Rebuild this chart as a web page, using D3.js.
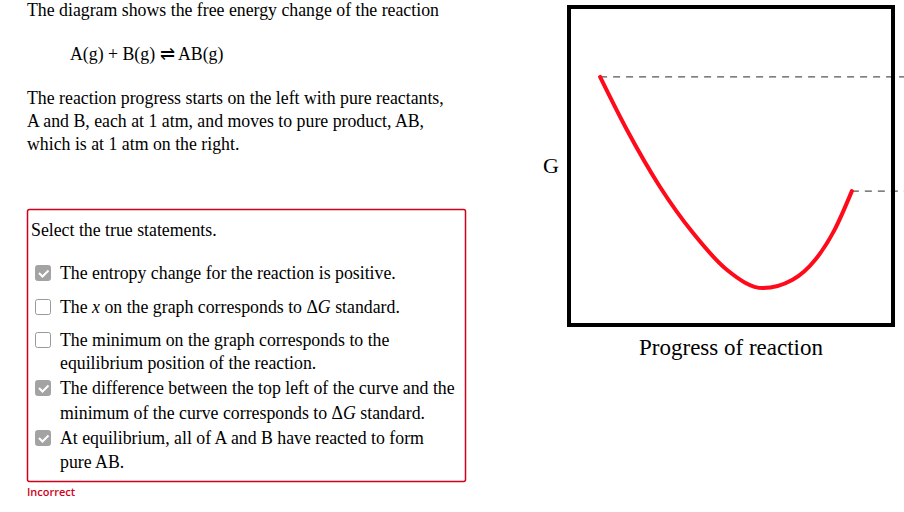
<!DOCTYPE html>
<html><head><meta charset="utf-8">
<script src="https://cdn.jsdelivr.net/npm/d3@7"></script>
<style>body{margin:0;background:#fff}svg text{font-family:"Liberation Serif","Times New Roman",serif;font-size:17.8px;fill:#000}</style>
</head><body><svg id="c" width="904" height="512"></svg>
<script>
// curve of G vs progress of reaction
const progress = [0.096, 0.179, 0.281, 0.383, 0.488, 0.599, 0.69, 0.76, 0.82, 0.873];
const gValues  = [78, 61.3, 43.4, 28.9, 17.3, 11.6, 14.2, 20.5, 30, 42.1];
const statements = [
  {checked: true,  lines: ["The entropy change for the reaction is positive."]},
  {checked: false, lines: ["The <i>x</i> on the graph corresponds to ΔG standard."]},
  {checked: false, lines: ["The minimum on the graph corresponds to the", "equilibrium position of the reaction."]},
  {checked: true,  lines: ["The difference between the top left of the curve and the", "minimum of the curve corresponds to ΔG standard."]},
  {checked: true,  lines: ["At equilibrium, all of A and B have reacted to form", "pure AB."]}
];
const itemY = [[279], [313], [346, 369], [394, 419], [444, 468]];

const svg = d3.select('#c');

// left text
const t = (x, y, s) => svg.append('text').attr('x', x).attr('y', y).text(s);
t(27, 16, 'The diagram shows the free energy change of the reaction');
t(70, 60, 'A(g) + B(g) ⇌ AB(g)');
t(27, 104, 'The reaction progress starts on the left with pure reactants,');
t(27, 127, 'A and B, each at 1 atm, and moves to pure product, AB,');
t(27, 150, 'which is at 1 atm on the right.');

svg.append('rect').attr('x', 27.5).attr('y', 209.5).attr('width', 438).attr('height', 272)
  .attr('fill', 'none').attr('stroke', '#d0021b').attr('stroke-width', 1.5).attr('rx', 2);
t(31, 236, 'Select the true statements.');

function richLine(x, y, s) {
  const el = svg.append('text').attr('x', x).attr('y', y);
  s.split(/(<i>x<\/i>|ΔG)/).forEach(p => {
    if (p === '<i>x</i>') el.append('tspan').attr('font-style', 'italic').text('x');
    else if (p === 'ΔG') { el.append('tspan').text('Δ'); el.append('tspan').attr('font-style', 'italic').text('G'); }
    else if (p) el.append('tspan').text(p);
  });
}
statements.forEach((d, i) => {
  const y0 = itemY[i][0];
  const g = svg.append('g');
  g.append('rect').attr('x', 35.5).attr('y', y0 - 13.5).attr('width', 15).attr('height', 15).attr('rx', 2)
    .attr('fill', d.checked ? '#a3a3a3' : '#fff').attr('stroke', d.checked ? '#a3a3a3' : '#999');
  if (d.checked) g.append('path').attr('d', `M39,${y0 - 6} l3.5,3.5 l6,-6`)
    .attr('fill', 'none').attr('stroke', '#fff').attr('stroke-width', 2);
  d.lines.forEach((l, j) => richLine(60, itemY[i][j], l));
});
svg.append('text').attr('x', 27).attr('y', 496).text('Incorrect')
  .style('font-family', '"Open Sans",sans-serif').style('font-size', '11px').style('fill', '#d0021b').style('font-weight', 600);

// chart
const box = {x0: 569, x1: 893, y0: 7, y1: 325};
const x = d3.scaleLinear().domain([0, 1]).range([box.x0, box.x1]);
const y = d3.scaleLinear().domain([0, 100]).range([box.y1, box.y0]);
const first = 0, last = progress.length - 1;

[[first, gValues[first]], [last, gValues[last]]].forEach(([i, gv]) => {
  svg.append('line').attr('x1', x(progress[i])).attr('x2', 904).attr('y1', y(gv)).attr('y2', y(gv))
    .attr('stroke', '#555').attr('stroke-width', 1.3).attr('stroke-dasharray', '7,6');
});
svg.append('rect').attr('x', box.x0).attr('y', box.y0).attr('width', box.x1 - box.x0).attr('height', box.y1 - box.y0)
  .attr('fill', 'none').attr('stroke', '#000').attr('stroke-width', 4);
svg.append('path').datum(progress.map((p, i) => [p, gValues[i]]))
  .attr('d', d3.line().x(d => x(d[0])).y(d => y(d[1])).curve(d3.curveMonotoneX))
  .attr('fill', 'none').attr('stroke', '#ff0a1a').attr('stroke-width', 4).attr('stroke-linecap', 'round');
svg.append('text').attr('x', 551).attr('y', 173).attr('text-anchor', 'middle').style('font-size', '22px').text('G');
svg.append('text').attr('x', 731).attr('y', 355).attr('text-anchor', 'middle').style('font-size', '23px').text('Progress of reaction');
</script></body></html>
